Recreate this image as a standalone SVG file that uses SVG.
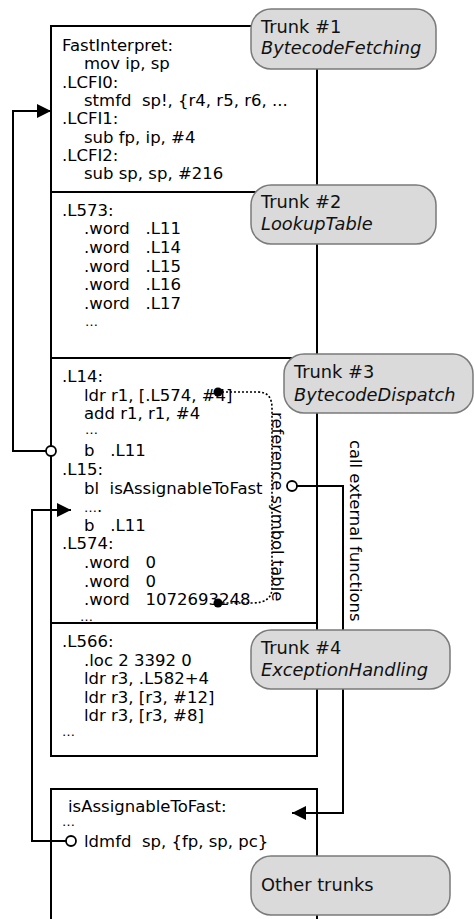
<svg xmlns="http://www.w3.org/2000/svg" width="474" height="919" viewBox="0 0 474 919">
<defs>
<style>
.box{fill:#fff;stroke:#000;stroke-width:2}
.code{font-family:"DejaVu Sans",sans-serif;font-size:16.5px;fill:#000;white-space:pre}
.el{font-size:13px}
.lbl{fill:#dadada;stroke:#7a7a7a;stroke-width:1.5}
.lt{font-family:"DejaVu Sans",sans-serif;font-size:17.8px;fill:#111}
.it{font-style:italic}
.wire{fill:none;stroke:#000;stroke-width:2}
.dot{fill:none;stroke:#000;stroke-width:1.6;stroke-dasharray:2 2}
.vt{font-family:"DejaVu Sans",sans-serif;font-size:16.4px;fill:#000}
.ring{fill:#fff;stroke:#000;stroke-width:1.8}
</style>
<marker id="arr" viewBox="0 0 14 14" refX="14" refY="7" markerWidth="14" markerHeight="14" markerUnits="userSpaceOnUse" orient="auto">
<path d="M0,0 L14,7 L0,14 Z" fill="#000"/>
</marker>
</defs>

<g id="box1">
<rect class="box" x="51" y="26" width="266" height="166"/>
<text class="code" x="62" y="51">FastInterpret:</text>
<text class="code" x="84" y="69.3">mov ip, sp</text>
<text class="code" x="62" y="87.6">.LCFI0:</text>
<text class="code" x="84" y="105.9" xml:space="preserve">stmfd  sp!, {r4, r5, r6, ...</text>
<text class="code" x="62" y="124.2">.LCFI1:</text>
<text class="code" x="84" y="142.5">sub fp, ip, #4</text>
<text class="code" x="62" y="160.8">.LCFI2:</text>
<text class="code" x="84" y="179.1">sub sp, sp, #216</text>
</g>

<g id="box2">
<rect class="box" x="51" y="192" width="266" height="166"/>
<text class="code" x="62" y="215.5">.L573:</text>
<text class="code" x="84" y="234.2" xml:space="preserve">.word   .L11</text>
<text class="code" x="84" y="252.9" xml:space="preserve">.word   .L14</text>
<text class="code" x="84" y="271.6" xml:space="preserve">.word   .L15</text>
<text class="code" x="84" y="290.3" xml:space="preserve">.word   .L16</text>
<text class="code" x="84" y="309" xml:space="preserve">.word   .L17</text>
<text class="code el" x="85" y="325.5">…</text>
</g>

<g id="box3">
<rect class="box" x="51" y="358" width="266" height="265"/>
<text class="code" x="62" y="382">.L14:</text>
<text class="code" x="84" y="400.6">ldr r1, [.L574, #4]</text>
<text class="code" x="84" y="419.2">add r1, r1, #4</text>
<text class="code el" x="85" y="434">…</text>
<text class="code" x="84" y="456.4" xml:space="preserve">b   .L11</text>
<text class="code" x="62" y="475">.L15:</text>
<text class="code" x="84" y="493.6" xml:space="preserve">bl  isAssignableToFast</text>
<text class="code" x="84" y="511.5"><tspan class="el">…</tspan>.</text>
<text class="code" x="84" y="530.8" xml:space="preserve">b   .L11</text>
<text class="code" x="62" y="549.4">.L574:</text>
<text class="code" x="84" y="568" xml:space="preserve">.word   0</text>
<text class="code" x="84" y="586.6" xml:space="preserve">.word   0</text>
<text class="code" x="84" y="605.2" xml:space="preserve">.word   1072693248</text>
<text class="code el" x="80" y="621">…</text>
</g>

<g id="box4">
<rect class="box" x="51" y="623" width="266" height="133"/>
<text class="code" x="62" y="647">.L566:</text>
<text class="code" x="84" y="665.6">.loc 2 3392 0</text>
<text class="code" x="84" y="684.2">ldr r3, .L582+4</text>
<text class="code" x="84" y="702.8">ldr r3, [r3, #12]</text>
<text class="code" x="84" y="721.4">ldr r3, [r3, #8]</text>
<text class="code el" x="62" y="736">…</text>
</g>

<g id="box5">
<path class="box" d="M51,930 V789 H317 V930"/>
<text class="code" x="68" y="812">isAssignableToFast:</text>
<text class="code el" x="62" y="826">…</text>
<text class="code" x="84" y="847" xml:space="preserve">ldmfd  sp, {fp, sp, pc}</text>
</g>

<g id="connectors">
<path class="wire" d="M46,451 H13 V111 H51" marker-end="url(#arr)"/>
<circle class="ring" cx="51" cy="451" r="5"/>
<path class="wire" d="M66,841 H32 V510 H71" marker-end="url(#arr)"/>
<circle class="ring" cx="71" cy="841" r="5"/>
<path class="wire" d="M297,486 H343 V813 H292" marker-end="url(#arr)"/>
<circle class="ring" cx="292" cy="486" r="5"/>
<path class="dot" d="M218,392 H258 Q272,392 272,408 V588 Q272,603 252,603 H218"/>
<circle cx="218" cy="392" r="4.5" fill="#000"/>
<circle cx="218" cy="603" r="4.5" fill="#000"/>
<text class="vt" transform="translate(272,412) rotate(90)">reference symbol table</text>
<text class="vt" transform="translate(350,440) rotate(90)">call external functions</text>
</g>

<g id="trunk1">
<rect class="lbl" x="251" y="9" width="185" height="60" rx="20"/>
<text class="lt" x="261" y="33">Trunk #1</text>
<text class="lt it" x="261" y="54">BytecodeFetching</text>
</g>
<g id="trunk2">
<rect class="lbl" x="251" y="185" width="185" height="59" rx="20"/>
<text class="lt" x="261" y="208">Trunk #2</text>
<text class="lt it" x="261" y="230">LookupTable</text>
</g>
<g id="trunk3">
<rect class="lbl" x="284" y="354" width="189" height="59" rx="20"/>
<text class="lt" x="294" y="378">Trunk #3</text>
<text class="lt it" x="294" y="401">BytecodeDispatch</text>
</g>
<g id="trunk4">
<rect class="lbl" x="251" y="630" width="199" height="59" rx="20"/>
<text class="lt" x="261" y="654">Trunk #4</text>
<text class="lt it" x="261" y="676">ExceptionHandling</text>
</g>
<g id="other">
<rect class="lbl" x="251" y="856" width="199" height="59" rx="20"/>
<text class="lt" x="261" y="891">Other trunks</text>
</g>
</svg>
